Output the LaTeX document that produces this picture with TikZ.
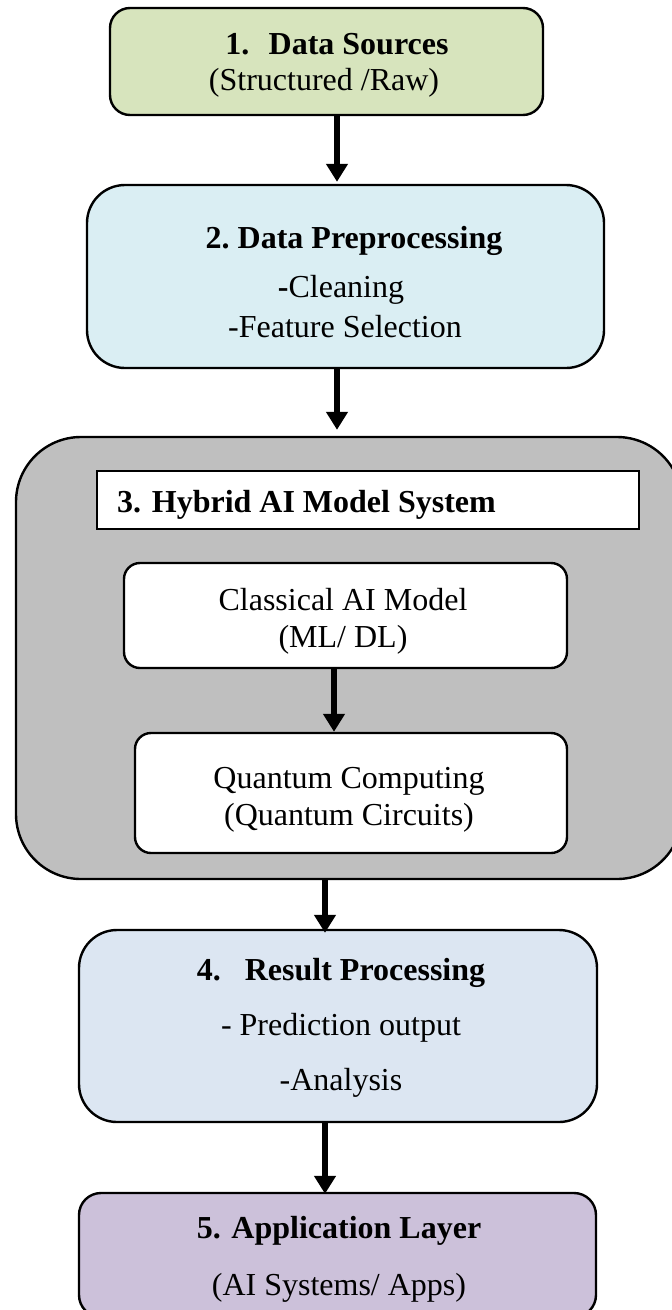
\documentclass[tikz,border=0pt]{standalone}
\usepackage{fontspec}
\setmainfont{Liberation Serif}
\usetikzlibrary{arrows.meta}
\definecolor{cgreen}{HTML}{D7E4BD}
\definecolor{cblue}{HTML}{DAEEF3}
\definecolor{cblue2}{HTML}{DCE6F2}
\definecolor{cpurple}{HTML}{CCC1DA}
\definecolor{cgray}{HTML}{BFBFBF}
\tikzset{
  box/.style={draw=black, line width=2.4pt, inner sep=0pt, rectangle},
  txt/.style={anchor=base, inner sep=0pt, font=\fontsize{32}{38}\selectfont},
  btxt/.style={txt, font=\fontsize{32}{38}\selectfont\bfseries},
  arr/.style={line width=6pt, -{Triangle[width=21pt,length=18pt]}}
}
\begin{document}
\begin{tikzpicture}[x=1pt,y=-1pt]
\clip (0,0) rectangle (672,1310);
\useasboundingbox (0,0) rectangle (672,1310);
\fill[white] (0,0) rectangle (672,1310);

% Box 1
\node[box, fill=cgreen, rounded corners=20pt, minimum width=433pt, minimum height=107pt] (b1) at (326.5,61.5) {};
\node[btxt] (t1a) at (337,54) {1.\hspace{0.6em}Data Sources};
\node[txt] (t1b) at (324,90) {(Structured /Raw)};

% Box 2
\node[box, fill=cblue, rounded corners=38pt, minimum width=517pt, minimum height=183pt] (b2) at (345.5,276.5) {};
\node[btxt] (t2a) at (354,248) {2.\hspace{0.25em}Data Preprocessing};
\node[txt] (t2b) at (341,297) {\textbf{-}Cleaning};
\node[txt] (t2c) at (345,337) {-Feature Selection};

% Box 3 (gray)
\node[box, fill=cgray, rounded corners=65pt, minimum width=666pt, minimum height=442pt] (b3) at (349,658) {};
\node[draw=black, line width=2pt, fill=white, inner sep=0pt, minimum width=542pt, minimum height=58pt] (hdr) at (368,500) {};
\node[btxt, anchor=base west] (t3) at (117,512) {3. Hybrid AI Model System};

\node[box, fill=white, rounded corners=16pt, minimum width=443pt, minimum height=105pt] (cls) at (345.5,615.5) {};
\node[txt] (tc1) at (343,610) {Classical AI Model};
\node[txt] (tc2) at (343,647) {(ML/ DL)};

\node[box, fill=white, rounded corners=16pt, minimum width=432pt, minimum height=120pt] (qnt) at (351,793) {};
\node[txt] (tq1) at (349,788) {Quantum Computing};
\node[txt] (tq2) at (349,825) {(Quantum Circuits)};

% Box 4
\node[box, fill=cblue2, rounded corners=38pt, minimum width=518pt, minimum height=192pt] (b4) at (338,1026) {};
\node[btxt] (t4a) at (341,980) {4.\hspace{0.75em}Result Processing};
\node[txt] (t4b) at (341,1035) {- Prediction output};
\node[txt] (t4c) at (341,1090) {-Analysis};

% Box 5
\node[box, fill=cpurple, rounded corners=22pt, minimum width=517pt, minimum height=124pt] (b5) at (337.5,1255) {};
\node[btxt] (t5a) at (339,1238) {5. Application Layer};
\node[txt] (t5b) at (339,1295) {(AI Systems/ Apps)};

% Arrows
\draw[arr] ([xshift=10.5pt]b1.south) -- ([xshift=10.5pt,yshift=2pt]b1.south |- b2.north);
\draw[arr] ([xshift=-8.5pt]b2.south) -- ([xshift=-8.5pt,yshift=6pt]b2.south |- b3.north);
\draw[arr] ([xshift=-11.5pt]cls.south) -- ([xshift=-11.5pt]cls.south |- qnt.north);
\draw[arr] ([xshift=-24pt]b3.south) -- ([xshift=-24pt,yshift=-4pt]b3.south |- b4.north);
\draw[arr] ([xshift=-13pt]b4.south) -- ([xshift=-13pt,yshift=-2pt]b4.south |- b5.north);
\end{tikzpicture}
\end{document}
